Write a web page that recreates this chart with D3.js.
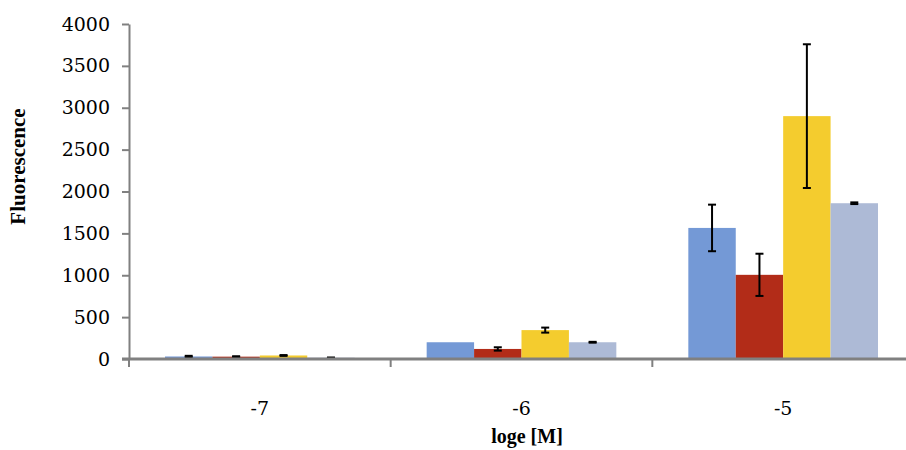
<!DOCTYPE html>
<html>
<head>
<meta charset="utf-8">
<script src="https://cdn.jsdelivr.net/npm/d3@7"></script>
<style>
    body { margin: 0; background: #fff; }
    svg { display: block; }
</style>
</head>
<body>
<div id="chart"></div>
<script>
// Données
const categories = ['-7', '-6', '-5'];
const seriesNames = ['s1', 's2', 's3', 's4'];
const seriesColors = ['#7499D6', '#B22C18', '#F4CC2E', '#ADBAD6'];
const values = [
    [30, 200, 1565],   // bleu
    [28, 120, 1005],   // rouge
    [42, 345, 2900],   // jaune
    [15, 200, 1860]    // gris
];
const errors = [
    [8, 0, 278],
    [5, 20, 252],
    [5, 30, 858],
    [3, 5, 10]
];
const yTicks = [0, 500, 1000, 1500, 2000, 2500, 3000, 3500, 4000];

const FONT = '"DejaVu Serif", "Liberation Serif", serif';
const width = 906;
const height = 450;
const margin = { top: 24, right: -8, bottom: 91, left: 129 };

const svg = d3.select('#chart')
    .append('svg')
    .attr('width', width)
    .attr('height', height);

const x0 = d3.scaleBand()
    .domain(categories)
    .range([margin.left, width - margin.right])
    .paddingInner(0)
    .paddingOuter(0);

const x1 = d3.scaleBand()
    .domain(seriesNames)
    .range([36, x0.bandwidth() - 36]);

const y = d3.scaleLinear()
    .domain([0, 4000])
    .range([height - margin.bottom, margin.top]);

// Barres
seriesNames.forEach((s, i) => {
    svg.append('g')
        .selectAll('rect')
        .data(categories)
        .join('rect')
        .attr('x', c => x0(c) + x1(s))
        .attr('y', (c, j) => y(values[i][j]))
        .attr('width', x1.bandwidth())
        .attr('height', (c, j) => y(0) - y(values[i][j]))
        .attr('fill', seriesColors[i]);
});

// Barres d'erreur
seriesNames.forEach((s, i) => {
    const g = svg.append('g');
    categories.forEach((c, j) => {
        const e = errors[i][j];
        if (!e) return;
        const cx = x0(c) + x1(s) + x1.bandwidth() / 2;
        const top = y(values[i][j] + e);
        const bot = y(values[i][j] - e);
        g.append('line')
            .attr('x1', cx).attr('x2', cx)
            .attr('y1', top).attr('y2', bot)
            .attr('stroke', '#000').attr('stroke-width', 2);
        [top, bot].forEach(yy => {
            g.append('line')
                .attr('x1', cx - 4).attr('x2', cx + 4)
                .attr('y1', yy).attr('y2', yy)
                .attr('stroke', '#000').attr('stroke-width', 2);
        });
    });
});

// Axe Y
const yAxis = svg.append('g')
    .attr('transform', `translate(${margin.left},0)`)
    .call(d3.axisLeft(y).tickValues(yTicks).tickFormat(d3.format('d'))
        .tickSize(7).tickSizeOuter(0).tickPadding(12));
yAxis.attr('font-family', FONT);
yAxis.select('.domain').attr('stroke', '#808080').attr('stroke-width', 2);
yAxis.selectAll('.tick line').attr('stroke', '#808080').attr('stroke-width', 2);
yAxis.selectAll('.tick text')
    .attr('font-size', 19)
    .attr('fill', '#000');

// Axe X
const xAxis = svg.append('g')
    .attr('transform', `translate(0,${y(0)})`);
xAxis.append('line')
    .attr('x1', margin.left - 7).attr('x2', width)
    .attr('stroke', '#808080').attr('stroke-width', 3);
xAxis.selectAll('.sep')
    .data(categories)
    .join('line')
    .attr('x1', c => x0(c)).attr('x2', c => x0(c))
    .attr('y1', 0).attr('y2', 8)
    .attr('stroke', '#808080').attr('stroke-width', 2);
xAxis.selectAll('.lbl')
    .data(categories)
    .join('text')
    .attr('x', c => x0(c) + x0.bandwidth() / 2)
    .attr('y', 56)
    .attr('text-anchor', 'middle')
    .attr('font-family', FONT)
    .attr('font-size', 19)
    .text(c => c);

// Titres des axes
svg.append('text')
    .attr('transform', `translate(25,${(margin.top + y(0)) / 2 - 25}) rotate(-90)`)
    .attr('text-anchor', 'middle')
    .attr('font-family', '"Liberation Serif", serif')
    .attr('font-weight', 'bold')
    .attr('font-size', 21)
    .text('Fluorescence');

svg.append('text')
    .attr('x', 527)
    .attr('y', 443)
    .attr('text-anchor', 'middle')
    .attr('font-family', '"Liberation Serif", serif')
    .attr('font-weight', 'bold')
    .attr('font-size', 20)
    .text('loge [M]');
</script>
</body>
</html>
